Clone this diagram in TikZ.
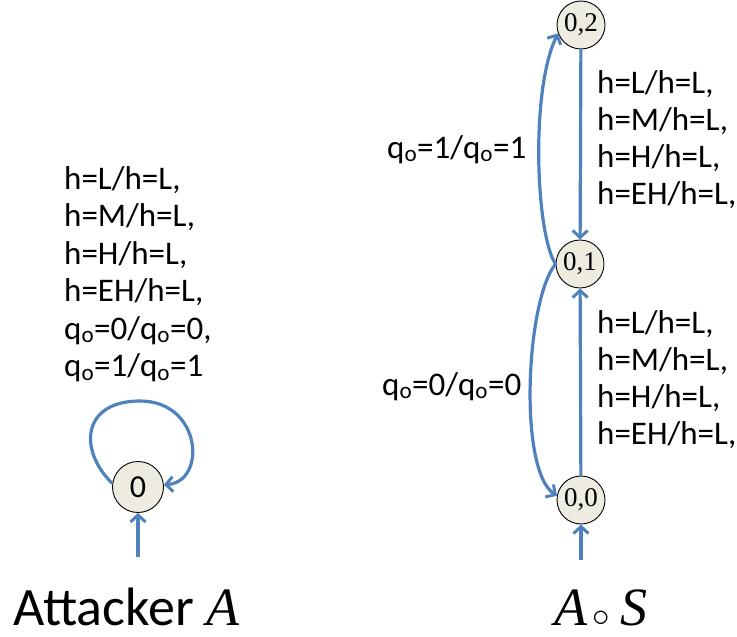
\documentclass[tikz,border=0pt]{standalone}
\usepackage{fontspec}
\setmainfont{Carlito}
\newfontfamily\tms{Liberation Serif}
\usetikzlibrary{arrows.meta}
\definecolor{edgeblue}{HTML}{4F81BD}
\definecolor{statefill}{HTML}{EEECE1}
\begin{document}
\begin{tikzpicture}[x=1pt,y=-1pt,
  state/.style={circle, draw=black, line width=0.9pt, fill=statefill, minimum size=48pt, inner sep=0pt},
  edge/.style={draw=edgeblue, line width=3.2pt, -{Straight Barb[length=7pt,width=15pt,line width=3pt]}},
  lbl/.style={font=\fontsize{33}{37.5}\selectfont, anchor=base west, inner sep=0pt},
  captext/.style={font=\fontsize{54}{60}\selectfont, anchor=base west, inner sep=0pt, text depth=0pt}]
\useasboundingbox (0,0) rectangle (737,637);
% states
\node[state, minimum size=51pt, font=\fontsize{32}{34}\selectfont] (s0) at (138,487) {0};
\node[state, font=\tms\fontsize{27}{29}\selectfont] (n02) at (581,25) {0,2};
\node[state, font=\tms\fontsize{27}{29}\selectfont] (n01) at (580,264) {0,1};
\node[state, font=\tms\fontsize{27}{29}\selectfont] (n00) at (581,500) {0,0};
% initial arrows
\coordinate (i0) at (138,557);
\coordinate (i00) at (581,560);
\draw[edge] (i0) -- (s0);
\draw[edge] (i00) -- (n00);
% self loop
\draw[edge] (s0.172) .. controls (78,450) and (82,401) .. (140,401) .. controls (202,401) and (207,482) .. (s0.5);
% right edges
\draw[edge] (n02) -- (n01);
\draw[edge] (n00) -- (n01);
\draw[edge] (n01.west) .. controls (536,235) and (530,90) .. (n02.200);
\draw[edge] (n01.west) .. controls (526,300) and (518,470) .. (n00.170);
% left labels
\node[lbl] (la1) at (64,189) {h=L/h=L,};
\node[lbl] (la2) at (64,226.5) {h=M/h=L,};
\node[lbl] (la3) at (64,264) {h=H/h=L,};
\node[lbl] (la4) at (64,301.5) {h=EH/h=L,};
\node[lbl] (la5) at (64,339) {q\textsubscript{o}=0/q\textsubscript{o}=0,};
\node[lbl] (la6) at (64,376.5) {q\textsubscript{o}=1/q\textsubscript{o}=1};
% right upper labels
\node[lbl] (ru1) at (597,93) {h=L/h=L,};
\node[lbl] (ru2) at (597,130) {h=M/h=L,};
\node[lbl] (ru3) at (597,167) {h=H/h=L,};
\node[lbl] (ru4) at (597,204) {h=EH/h=L,};
% right lower labels
\node[lbl] (rl1) at (597,333) {h=L/h=L,};
\node[lbl] (rl2) at (597,370) {h=M/h=L,};
\node[lbl] (rl3) at (597,407) {h=H/h=L,};
\node[lbl] (rl4) at (597,444) {h=EH/h=L,};
% middle labels
\node[lbl] (m1) at (387,158) {q\textsubscript{o}=1/q\textsubscript{o}=1};
\node[lbl] (m0) at (382,395) {q\textsubscript{o}=0/q\textsubscript{o}=0};
% captions
\node[captext] (capA) at (13,625) {Attacker {\tms\itshape A}};
\node[captext] (capAS) at (554,625) {{\tms\itshape A}\hspace{5pt}\raisebox{-1pt}{\scalebox{1.4}{$\circ$}}\hspace{11pt}{\tms\itshape S}};
\end{tikzpicture}
\end{document}
